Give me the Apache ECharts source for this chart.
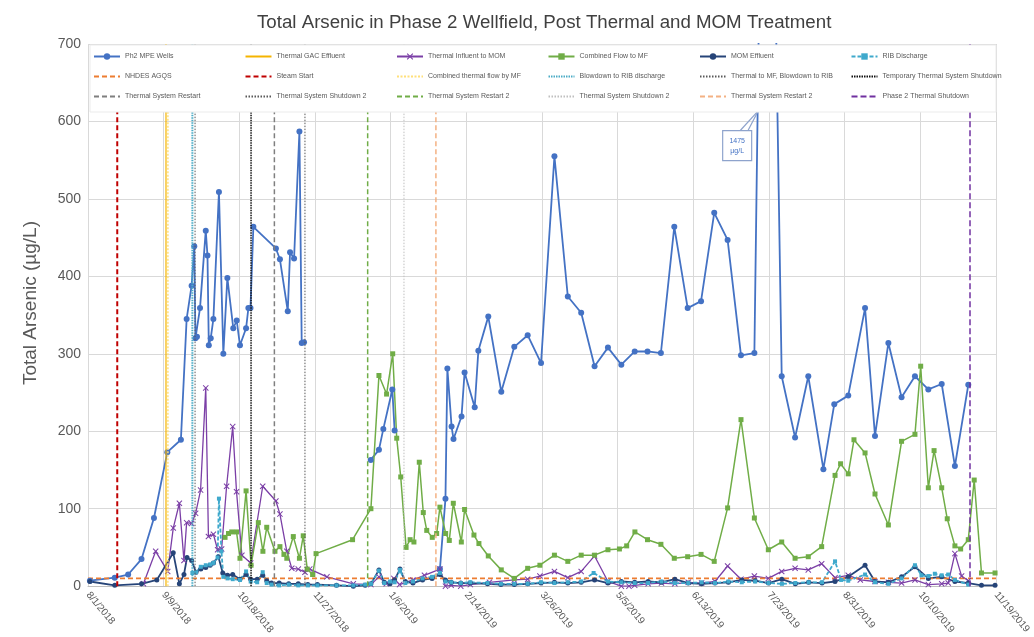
<!DOCTYPE html>
<html>
<head>
<meta charset="utf-8">
<script src="https://cdn.jsdelivr.net/npm/echarts@6/dist/echarts.min.js"></script>
<style>html,body{margin:0;padding:0;background:#fff}#c{width:1034px;height:637px}</style>
</head>
<body>
<div id="c"></div>
<script>
// x values are days since 8/1/2018
const tickLabels = ['8/1/2018','9/9/2018','10/18/2018','11/27/2018','1/6/2019','2/14/2019','3/26/2019','5/5/2019','6/13/2019','7/23/2019','8/31/2019','10/10/2019','11/19/2019'];
const dayMin = 0, dayMax = 475;

const mpeWells = [[1,7],[14,11],[21,15],[28,35],[34.5,88],[41.5,173],[48.6,189],[51.6,345],[54.2,388],[55.6,439],[56.2,320],[57,322],[58.6,359],[61.6,459],[62.5,427],[63.2,311],[64.2,320],[65.6,345],[68.5,509],[70.8,300],[72.9,398],[76,333],[77.8,343],[79.5,311],[82.7,333],[83.9,359],[85,359],[86.5,464],[98.3,436],[100.4,422],[104.5,355],[105.7,431],[107.8,423],[110.6,587],[111.8,314],[113,315],[130,null],[147.9,163],[152.2,176],[154.5,203],[159.2,254],[160.4,201],[172,null],[184.1,22],[187,113],[188,281],[190.2,206],[191.2,190],[195.4,219],[197,276],[202.3,231],[204.2,304],[209.4,348],[216.2,251],[223,309],[230,324],[237,288],[244,555],[251,374],[258,353],[265,284],[272,308],[279,286],[286,303],[292.7,303],[299.7,301],[306.7,464],[313.7,359],[320.7,368],[327.6,482],[334.6,447],[341.6,298],[348.6,301],[355,1475],[362.9,271],[369.9,192],[376.8,271],[384.7,151],[390.4,235],[397.7,246],[406.5,359],[411.7,194],[418.7,314],[425.6,244],[432.6,271],[439.6,254],[446.6,261],[453.5,155],[460.5,260]];

const thermalInfluent = [[29,3],[35.4,45],[41.7,19],[44.6,75],[47.8,107],[50.2,33],[51.6,82],[54.2,81],[56.3,94],[58.9,124],[61.6,256],[63,64],[65.6,67],[67.8,47],[69.9,48],[72.5,129],[75.7,206],[77.7,122],[80.5,40],[85.1,30],[91.4,129],[98.3,110],[100.4,93],[104,45],[106.6,23],[110,22],[113.5,18],[116,22],[125,12],[138.8,3],[148,2],[152.2,12],[156,3],[160,10],[163,2],[170,8],[176,14],[184.1,22],[187,0],[190,1],[195,0],[200,2],[210,5],[223,8],[230,9],[236.4,13],[244,19],[251,11],[258,19],[265,39],[272,6],[279,0],[283,0],[286,1],[293,3],[300,4],[307,3],[314,5],[321,4],[328,6],[334.6,26],[341.6,9],[348.6,13],[355.9,10],[362.9,19],[369.9,23],[376.8,21],[383.8,29],[390.8,11],[397.7,14],[404,8],[411.7,6],[418.7,5],[425.6,4],[432.6,8],[439.6,2],[446.6,3],[450,4],[453.5,42],[457,13],[460.5,7]];

const combinedFlow = [[71.7,63],[73.5,68],[75.2,70],[77.7,70],[79.5,36],[82.7,123],[85.3,27],[89.1,82],[91.5,45],[93.5,76],[97.8,45],[100.4,51],[102.5,41],[104,36],[107.4,64],[110.6,36],[112.6,65],[114.7,22],[117.5,15],[119.3,42],[138.4,60],[148,100],[152.2,272],[156.2,248],[159.4,300],[161.5,191],[163.6,141],[166.4,50],[168.5,60],[170.5,57],[173.3,160],[175.4,95],[177.2,72],[180.1,63],[182.4,68],[184.1,102],[187.1,68],[189,59],[191.1,107],[195.3,57],[197,99],[201.9,66],[204.5,55],[209.4,39],[216.2,21],[223,10],[230,23],[236.4,27],[244,40],[251,32],[258,40],[265,40],[272,47],[278,48],[281.8,52],[286.1,70],[292.7,60],[299.7,54],[306.7,36],[313.7,38],[320.7,41],[327.6,32],[334.6,101],[341.6,215],[348.6,88],[355.9,47],[362.9,57],[369.9,36],[376.8,38],[383.8,51],[390.8,143],[393.7,158],[397.7,145],[400.7,189],[406.5,172],[411.7,119],[418.7,79],[425.6,187],[432.6,196],[435.6,284],[439.6,127],[442.6,175],[446.6,127],[449.5,87],[453.5,52],[456.5,48],[460.5,60],[463.6,137],[467.4,17],[474.5,17]];

const momEffluent = [[1,6],[14,1],[28,3],[36,8],[44.6,43],[47.8,3],[50.2,15],[51.8,37],[54.2,33],[56.5,18],[59,22],[61.6,24],[63.9,27],[65.6,30],[68.2,38],[70.5,17],[73,14],[75.7,15],[79.5,9],[82.7,15],[85.1,9],[88.5,9],[91.4,14],[93.5,7],[96,4],[100,4],[105,3],[110,3],[115,2],[120,2],[130,1],[138.8,0],[145,1],[148,3],[152.2,21],[155,5],[158,3],[160.4,8],[163.2,22],[166,6],[170,4],[175,8],[180,10],[184.1,15],[187,8],[190,5],[195,4],[200,4],[209,3],[216,2],[223,2],[230,3],[237,4],[244,5],[251,4],[258,5],[265,8],[272,4],[279,6],[286,5],[293,6],[300,5],[307,9],[314,4],[321,3],[328,4],[335,5],[342,8],[349,7],[356,4],[363,9],[370,3],[377,5],[384,4],[390.8,6],[397.7,12],[406.5,27],[411.7,6],[418.7,5],[425.6,12],[432.6,25],[439.6,10],[446.6,12],[453.5,6],[460.5,4],[467.4,1],[474.5,1]];

const ribDischarge = [[54.6,17],[56.5,18],[59,25],[61.6,27],[63.9,28],[65.6,30],[67.8,37],[68.5,113],[69.8,45],[70.8,12],[73,10],[75.7,9],[79.5,8],[82.7,19],[85.1,6],[88.5,5],[91.4,18],[93.5,4],[96,2],[100,1],[105,2],[110,1],[115,1],[120,1],[130,1],[138.8,1],[145,2],[148,3],[152.2,20],[155,4],[158,6],[160.4,5],[163.2,21],[166,4],[170,6],[175,10],[180,12],[184.1,17],[187,6],[190,5],[195,4],[200,5],[209,4],[216,3],[223,3],[230,3],[237,5],[244,4],[251,5],[258,6],[264.5,17],[272,6],[279,5],[286,4],[293,4],[300,6],[307,4],[314,4],[321,5],[328,4],[335,6],[342,5],[349,6],[356,4],[363,3],[370,4],[377,5],[384,5],[390.8,32],[394,8],[397.7,7],[406.5,15],[411.7,5],[418.7,3],[425.6,10],[432.6,27],[436,14],[439.6,13],[443,16],[446.6,14],[450,15],[453.5,8],[460.5,2]];

const agqsLevel = 10;
const peakLabel = '1475\nµg/L';

// vertical event lines: name, day
const eventNames = ['Thermal GAC Effluent','Steam Start','Combined thermal flow by MF','Blowdown to RIB discharge','Thermal to MF, Blowdown to RIB','Temporary Thermal System Shutdown','Thermal System Restart','Thermal System Shutdown 2','Thermal System Restart 2','Thermal System Shutdown 2\u200b','Thermal System Restart 2\u200b','Phase 2 Thermal Shutdown'];
const eventDays  = [40.8, 15.3, 41.8, 54.6, 56, 85.3, 97.5, 113.5, 146.3, 165.3, 182, 461.4];

const eventStyles = {
  'Thermal GAC Effluent': {color:'#F5B400', type:'solid', width:1.2},
  'Steam Start': {color:'#C00000', type:[5,3], width:2},
  'Combined thermal flow by MF': {color:'#FFE07A', type:[2,1.5], width:1.5},
  'Blowdown to RIB discharge': {color:'#4BACC6', type:[1.5,1], width:2},
  'Thermal to MF, Blowdown to RIB': {color:'#595959', type:[1.5,1.5], width:1},
  'Temporary Thermal System Shutdown': {color:'#111111', type:[1.5,1], width:1.5},
  'Thermal System Restart': {color:'#7F7F7F', type:[5,3], width:1.5},
  'Thermal System Shutdown 2': {color:'#595959', type:[1.5,1.5], width:1},
  'Thermal System Restart 2': {color:'#70AD47', type:[5,3], width:1.5},
  'Thermal System Shutdown 2\u200b': {color:'#BFBFBF', type:[1.5,1.5], width:1},
  'Thermal System Restart 2\u200b': {color:'#F4B183', type:[5,3], width:1.5},
  'Phase 2 Thermal Shutdown': {color:'#7030A0', type:[6,3], width:1.5}
};

const xPath = 'path://M0,1.2L1.2,0L5,3.8L8.8,0L10,1.2L6.2,5L10,8.8L8.8,10L5,6.2L1.2,10L0,8.8L3.8,5Z';

const series = [
  {name:'Ph2 MPE Wells', type:'line', data:mpeWells, symbol:'circle', symbolSize:6,
   itemStyle:{color:'#4472C4'}, lineStyle:{color:'#4472C4', width:1.8}, z:3,
   markPoint:{symbol:'rect', symbolSize:[29,30], silent:true,
     itemStyle:{color:'#fff', borderColor:'#8EA3CC', borderWidth:1.2},
     label:{show:true, formatter:peakLabel, color:'#4472C4', fontSize:7, lineHeight:10, fontFamily:'Liberation Sans'},
     data:[{coord:[339.6,568.7]}]},
   markLine:{symbol:'none', silent:true, animation:false, label:{show:false},
     lineStyle:{color:'#8EA3CC', type:'solid', width:1.2},
     data:[[{coord:[341.1,588]},{coord:[350.6,613.6]}],[{coord:[345.2,588]},{coord:[350.6,613.6]}]]}
  },
  {name:'Thermal GAC Effluent', type:'line', data:[[eventDays[0],0],[eventDays[0],700]], symbol:'none'},
  {name:'Thermal Influent to MOM', type:'line', data:thermalInfluent, symbol:xPath, symbolSize:6,
   itemStyle:{color:'#7B3FA6'}, lineStyle:{color:'#7B3FA6', width:1.3}, z:3},
  {name:'Combined Flow to MF', type:'line', data:combinedFlow, symbol:'rect', symbolSize:5,
   itemStyle:{color:'#70AD47'}, lineStyle:{color:'#70AD47', width:1.5}, z:3},
  {name:'MOM Effluent', type:'line', data:momEffluent, symbol:'circle', symbolSize:5,
   itemStyle:{color:'#264478'}, lineStyle:{color:'#264478', width:1.8}, z:3},
  {name:'RIB Discharge', type:'line', data:ribDischarge, symbol:'rect', symbolSize:4,
   itemStyle:{color:'#3FA9CC'}, lineStyle:{color:'#3FA9CC', width:1.8, type:[4,2]}, z:3},
  {name:'NHDES AGQS', type:'line', data:[[dayMin,agqsLevel],[dayMax,agqsLevel]], symbol:'none',
   lineStyle:{color:'#ED7D31', width:1.8, type:[5,3]}, itemStyle:{color:'#ED7D31'}, z:3}
];
eventNames.forEach((n,i)=>{
  if (i===0) return;
  series.push({name:n, type:'line', data:[[eventDays[i],0],[eventDays[i],700]], symbol:'none', z:4});
});
series.forEach(s=>{
  const st = eventStyles[s.name];
  if (st) { s.lineStyle = {color:st.color, type:st.type, width:st.width}; s.itemStyle = {color:st.color}; s.z = 4; s.silent = true; }
});

const noMarker = ['NHDES AGQS'].concat(eventNames);
const legendCols = [
  ['Ph2 MPE Wells','NHDES AGQS','Thermal System Restart'],
  ['Thermal GAC Effluent','Steam Start','Thermal System Shutdown 2'],
  ['Thermal Influent to MOM','Combined thermal flow by MF','Thermal System Restart 2'],
  ['Combined Flow to MF','Blowdown to RIB discharge','Thermal System Shutdown 2\u200b'],
  ['MOM Effluent','Thermal to MF, Blowdown to RIB','Thermal System Restart 2\u200b'],
  ['RIB Discharge','Temporary Thermal System Shutdown','Phase 2 Thermal Shutdown']
];
const legends = legendCols.map((col,i)=>({
  data: col.map(n => noMarker.indexOf(n) >= 0 ? {name:n, itemStyle:{opacity:0, color:'transparent', borderWidth:0}} : {name:n}),
  orient:'vertical', left: 93 + 151.5*i, top: 53, itemGap: 13, itemWidth: 26, itemHeight: 8,
  selectedMode:false, z: 20, padding: 0,
  textStyle:{fontSize:7, color:'#595959', fontFamily:'Liberation Sans'},
  formatter: n => n.replace(/\u200b/g,'')
}));

const step = (dayMax - dayMin) / (tickLabels.length - 1);
const chart = echarts.init(document.getElementById('c'), null, {renderer:'canvas'});
chart.setOption({
  animation:false,
  backgroundColor:'#fff',
  title:{text:'Total Arsenic in Phase 2 Wellfield, Post Thermal and MOM Treatment', left:252, top:8,
    textStyle:{fontSize:18.7, fontWeight:'normal', color:'#404040', fontFamily:'Liberation Sans'}},
  legend: legends,
  graphic:[{type:'rect', z:15, silent:true, shape:{x:90, y:45, width:906, height:67},
    style:{fill:'#fff', stroke:'#EBEBEB', lineWidth:1}}],
  grid:{left:88, right:38, top:44, bottom:47},
  xAxis:{type:'value', min:dayMin, max:dayMax, interval:step,
    axisLine:{show:true, lineStyle:{color:'#BFBFBF'}}, axisTick:{show:false},
    splitLine:{show:true, lineStyle:{color:'#D9D9D9', width:1}},
    axisLabel:{rotate:-50, fontSize:10, color:'#595959', fontFamily:'Liberation Sans', margin:7,
      formatter: v => tickLabels[Math.round((v - dayMin)/step)] || ''}},
  yAxis:{type:'value', min:0, max:700, interval:100,
    name:'Total Arsenic (µg/L)', nameLocation:'middle', nameGap:48, nameRotate:90,
    nameTextStyle:{fontSize:19, color:'#595959', fontFamily:'Liberation Sans', padding:[0,0,0,24]},
    axisLine:{show:false}, axisTick:{show:false},
    splitLine:{lineStyle:{color:'#D9D9D9', width:1}},
    axisLabel:{fontSize:14, color:'#595959', fontFamily:'Liberation Sans', margin:7}},
  series: series
});
</script>
</body>
</html>
